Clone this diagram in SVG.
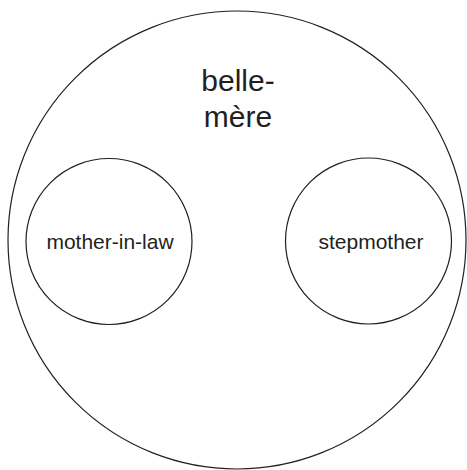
<svg xmlns="http://www.w3.org/2000/svg" width="467" height="470" viewBox="0 0 467 470">
<style>
.c{fill:none;stroke:#231f20;stroke-width:1.2}
.t{font-family:"Liberation Sans",Arial,sans-serif;fill:#231f20;text-anchor:middle}
</style>
<rect width="467" height="470" fill="#fff"/>
<g id="belle-mere">
<circle class="c" cx="237" cy="240" r="229"/>
<text class="t" font-size="30" x="238" y="91">belle-</text>
<text class="t" font-size="30" x="238" y="127">mère</text>
</g>
<g id="mother-in-law">
<circle class="c" cx="109" cy="241.5" r="83"/>
<text class="t" font-size="21" x="110" y="249">mother-in-law</text>
</g>
<g id="stepmother">
<circle class="c" cx="368.5" cy="241" r="83"/>
<text class="t" font-size="21" x="371" y="249">stepmother</text>
</g>
<g id="connectors"/>
</svg>
